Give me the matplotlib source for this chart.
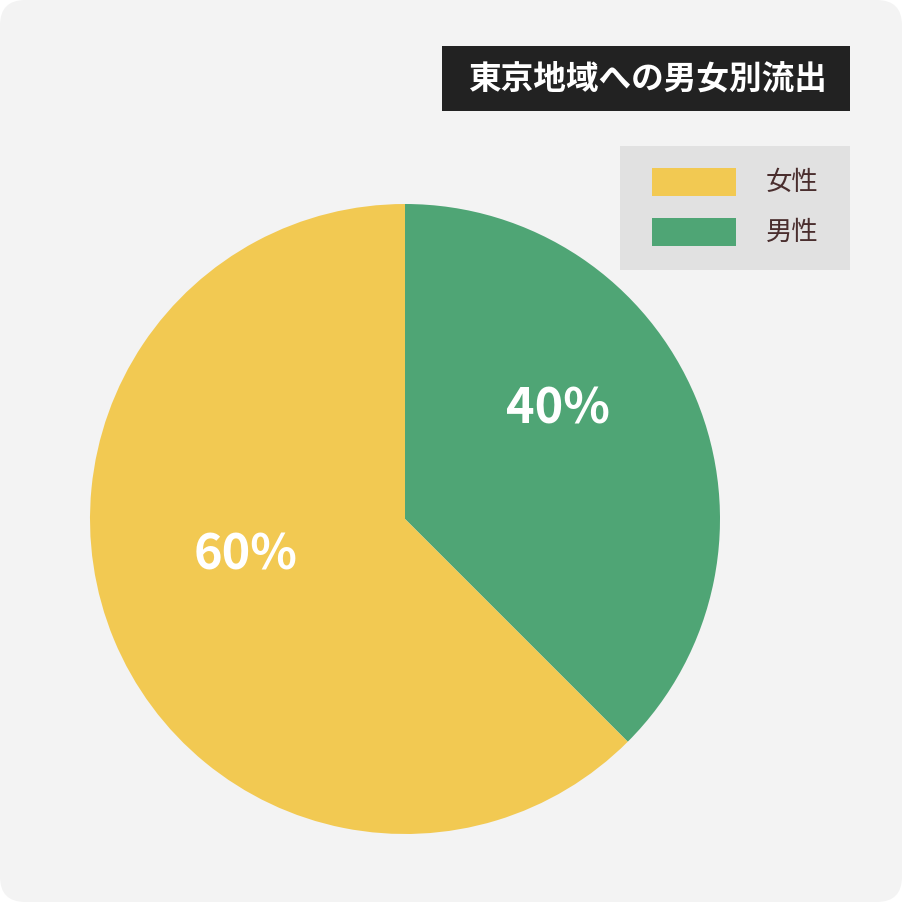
import matplotlib
matplotlib.use("Agg")
import matplotlib.pyplot as plt
from matplotlib.patches import FancyBboxPatch, Rectangle

plt.rcParams['font.family'] = ['Noto Sans CJK JP', 'DejaVu Sans']

# データ
labels = ["女性", "男性"]
values = [62.5, 37.5]
pct_labels = ["60%", "40%"]
colors = ["#F2C952", "#4FA575"]
title = "東京地域への男女別流出"

W, H = 902, 902
fig = plt.figure(figsize=(W / 100, H / 100), dpi=100)
fig.patch.set_facecolor("white")

# 背景（角丸）
bg = FancyBboxPatch((0, 0), 1, 1, boxstyle="round,pad=0,rounding_size=0.028",
                    transform=fig.transFigure, facecolor="#F3F3F3",
                    edgecolor="none", zorder=-1)
fig.patches.append(bg)

# 円グラフ
cx, cy, r = 405, 519, 315
ax = fig.add_axes([(cx - r) / W, (H - cy - r) / H, 2 * r / W, 2 * r / H])
ax.set_facecolor("none")
ax.pie(values[::-1], colors=colors[::-1], startangle=90, counterclock=False,
       radius=1, wedgeprops=dict(linewidth=0))
ax.set_xlim(-1, 1)
ax.set_ylim(-1, 1)
ax.set_aspect("equal")
ax.axis("off")

# パーセント表示
label_pos = {"60%": (-0.505, -0.115), "40%": (0.487, 0.35)}
for t in pct_labels:
    x, y = label_pos[t]
    ax.text(x, y, t, color="white", fontsize=35, fontweight="bold",
            ha="center", va="center")

# タイトル
fig.patches.append(Rectangle((442 / W, 1 - 111 / H), (850 - 442) / W, (111 - 46) / H,
                             transform=fig.transFigure, facecolor="#222222",
                             edgecolor="none", zorder=1))
fig.text(647 / W, 1 - 79 / H, title, color="white", fontsize=23.5,
         fontweight="bold", ha="center", va="center", zorder=2)

# 凡例
fig.patches.append(Rectangle((620 / W, 1 - 270 / H), (850 - 620) / W, (270 - 146) / H,
                             transform=fig.transFigure, facecolor="#E1E1E1",
                             edgecolor="none", zorder=1))
for i, (lab, col) in enumerate(zip(labels, colors)):
    ytop = 168 + i * 50
    fig.patches.append(Rectangle((652 / W, 1 - (ytop + 28) / H), 84 / W, 28 / H,
                                 transform=fig.transFigure, facecolor=col,
                                 edgecolor="none", zorder=2))
    fig.text(766 / W, 1 - (ytop + 14) / H, lab, color="#4A2E2E", fontsize=19,
             ha="left", va="center", zorder=2)

fig.savefig("out.png", dpi=100)
